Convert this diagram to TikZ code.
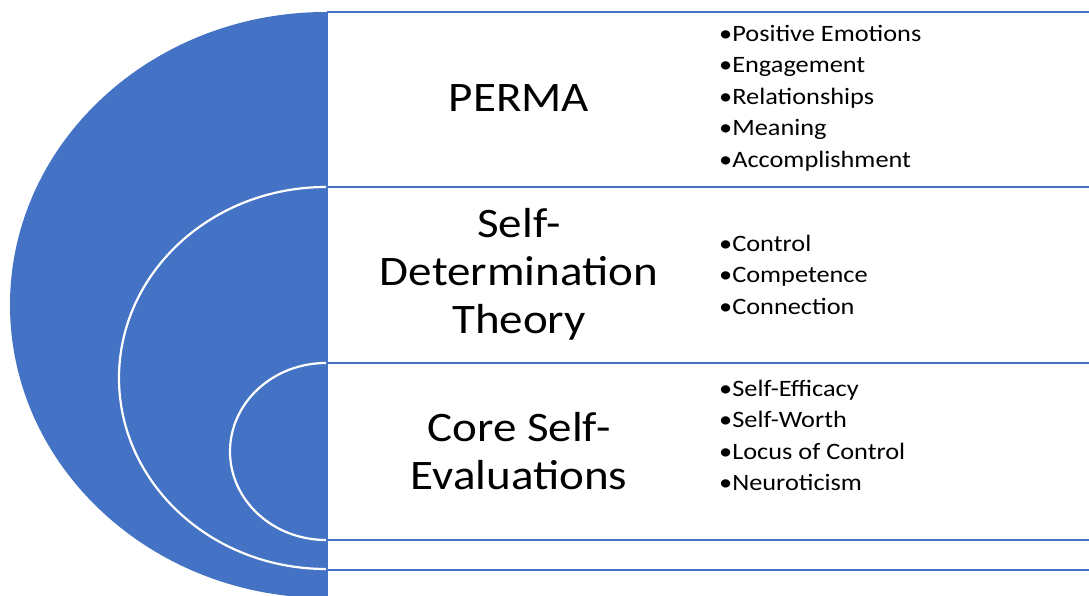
\documentclass[tikz,border=0pt]{standalone}
\usepackage{fontspec}
\setmainfont{Carlito}[FakeStretch=1.12]
\usetikzlibrary{positioning}
\definecolor{officeblue}{HTML}{4472C4}
\tikzset{
	band/.style={draw=officeblue, line width=2.5pt},
	ring/.style={draw=white, line width=2.2pt},
	title/.style={font=\fontsize{42}{48}\selectfont, align=center, inner sep=0pt},
	items/.style={font=\fontsize{23.5}{31.5}\selectfont, align=left, anchor=west, inner sep=0pt}
}

\begin{document}
\begin{tikzpicture}[x=1pt, y=1pt]
	% IMAGE SIZE
	\newcommand{\xMax}{1089} \newcommand{\yMax}{595}
	\fill[white] (0,0) rectangle (\xMax,\yMax);
	\clip (0,0) rectangle (\xMax,\yMax);

	% Half disc
	\fill[officeblue] (326,583) arc[start angle=90, end angle=270, x radius=316, y radius=293] -- cycle;

	% Inner rings
	\draw[ring] (326,408) arc[start angle=90, end angle=270, x radius=207, y radius=191];
	\draw[ring] (326,232) arc[start angle=90, end angle=270, x radius=96, y radius=88.5];

	% Bands
	\foreach \y in {583,408,232,55,25}
	{
		\draw[band] (327,\y) -- (1095,\y);
	}
	\draw[band] (327,583) -- (327,-5);

	% Titles
	\node[title] (perma) at (519,497) {PERMA};
	\node[title] (sdt) at (519,321) {Self-\\Determination\\Theory};
	\node[title] (cse) at (519,144) {Core Self-\\Evaluations};

	% Lists
	\node[items] (permaList) at (719,497) {\textbullet Positive Emotions\\\textbullet Engagement\\\textbullet Relationships\\\textbullet Meaning\\\textbullet Accomplishment};
	\node[items] (sdtList) at (719,320.5) {\textbullet Control\\\textbullet Competence\\\textbullet Connection};
	\node[items] (cseList) at (719,159.5) {\textbullet Self-Efficacy\\\textbullet Self-Worth\\\textbullet Locus of Control\\\textbullet Neuroticism};
\end{tikzpicture}
\end{document}
